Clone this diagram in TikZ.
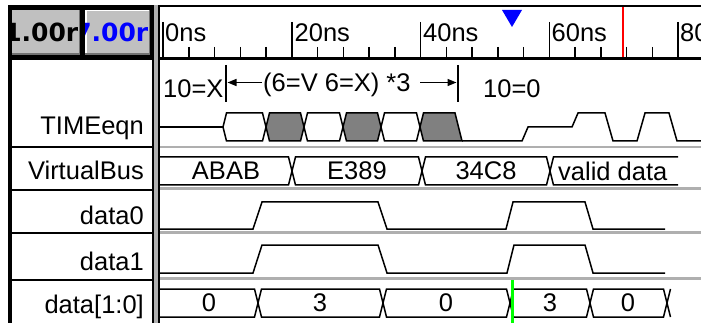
\documentclass[tikz,border=0pt]{standalone}
\usepackage{fontspec}
\setmainfont{Liberation Sans}
\newfontfamily\btnfamily{DejaVu Sans}
\usetikzlibrary{arrows.meta}
\definecolor{btngray}{RGB}{192,192,192}
\definecolor{sepgray}{RGB}{175,175,175}
\definecolor{boxgray}{RGB}{128,128,128}
\definecolor{mkblue}{RGB}{0,0,255}
\definecolor{mkred}{RGB}{255,0,0}
\definecolor{mkgreen}{RGB}{0,255,0}
\newcommand\busseg[5]{\draw[wave] (#1,#5)--(#1+3.5,#3)--(#2-3.5,#3)--(#2,#5)--(#2-3.5,#4)--(#1+3.5,#4)--cycle;}
\newcommand\grayseg[5]{\filldraw[wave,fill=boxgray] (#1,#5)--(#1+3.5,#3)--(#2-3.5,#3)--(#2,#5)--(#2-3.5,#4)--(#1+3.5,#4)--cycle;}
\tikzset{
  wave/.style={line width=1.5pt, line join=miter},
  txt/.style={inner sep=0pt, font=\fontsize{25.5}{30}\selectfont},
  btntxt/.style={inner sep=0pt, font=\btnfamily\bfseries\fontsize{25}{30}\selectfont},
  namelbl/.style={txt, anchor=base east},
  ruler/.style={txt, anchor=base west},
  tick/.style={line width=1.5pt},
  sep/.style={sepgray, line width=2.5pt},
  rowline/.style={black, line width=2pt},
  btn/.style={fill=btngray},
}
\begin{document}
\begin{tikzpicture}[x=1pt,y=-1pt]
\useasboundingbox (0,0) rectangle (701,323);
\fill[white] (0,0) rectangle (701,323);
% frame
\fill[black] (8,5) rectangle (153,60);
\fill[black] (8,5) rectangle (701,7.5);
\fill[black] (8,5) rectangle (11.5,323);
\fill[black] (153,57) rectangle (701,60);
\fill[black] (152,5) rectangle (160,323);
\fill[sepgray] (154.3,5) rectangle (157.5,323);
% buttons
\fill[btn] (12,10) rectangle (80,55);
\fill[btn] (85,10) rectangle (150,55);
\draw[white, line width=1.5pt] (85.75,55)--(85.75,10.75)--(150,10.75);
\draw[black!55, line width=1.5pt] (12,54.25)--(79.25,54.25)--(79.25,10);
\draw[black!55, line width=1.5pt] (85,54.25)--(149.25,54.25)--(149.25,10);
\begin{scope}
\clip (12,10) rectangle (80,55);
\node[btntxt, anchor=base east] (b1) at (78.5,42) {1.00r};
\end{scope}
\begin{scope}
\clip (85,10) rectangle (150,55);
\node[btntxt, anchor=base east, text=mkblue] (b2) at (148.5,42) {7.00r};
\end{scope}
% name column lines
\foreach \yy in {147,190,233,280} \draw[rowline] (10,\yy)--(152,\yy);
% wave area separators
\foreach \yy in {147,188.5,232.5,278.5} \draw[sep] (160,\yy)--(701,\yy);
% names
\node[namelbl] (n1) at (144,135) {TIMEeqn};
\node[namelbl] (n2) at (144,180) {VirtualBus};
\node[namelbl] (n3) at (144,225) {data0};
\node[namelbl] (n4) at (144,270) {data1};
\node[namelbl] (n5) at (144,313) {data[1:0]};
% ruler
\foreach \k in {0,...,21} \draw[tick] (163+25.75*\k,47)--(163+25.75*\k,57);
\foreach \k in {0,5,10,15,20} \draw[tick] (163+25.75*\k,22)--(163+25.75*\k,57);
\node[ruler] (r0) at (165,42) {0ns};
\node[ruler] (r20) at (294.5,42) {20ns};
\node[ruler] (r40) at (423,42) {40ns};
\node[ruler] (r60) at (551.5,42) {60ns};
\begin{scope}
\clip (160,8) rectangle (701,57);
\node[ruler] (r80) at (680,42) {80ns};
\end{scope}
\draw[mkred, line width=2pt] (623,7.5)--(623,57);
\fill[mkblue] (502,10)--(522,10)--(512,27)--cycle;
% annotation
\node[txt, anchor=base west] (a1) at (163,98) {10=X};
\node[txt, anchor=base west] (a2) at (263,92) {(6=V 6=X) *3};
\node[txt, anchor=base west] (a3) at (483,98) {10=0};
\coordinate (barL) at (226,65);
\coordinate (barLb) at (226,102);
\coordinate (barR) at (458,65);
\coordinate (barRb) at (458,102);
\draw[line width=1.8pt] (barL)--(barLb);
\draw[line width=1.8pt] (barR)--(barRb);
\draw[line width=1.5pt, -{Triangle[length=9pt,width=7pt]}] (a2.west |- 0,82.5) ++(-1,0) -- (227.5,82.5);
\draw[line width=1.5pt, -{Triangle[length=9pt,width=7pt]}] (420,82.5) -- (456.5,82.5);
% TIMEeqn
\draw[wave] (160,127)--(223,127);
\busseg{223}{266}{113}{141}{127}
\grayseg{266}{304}{113}{141}{127}
\busseg{304}{343}{113}{141}{127}
\grayseg{343}{381}{113}{141}{127}
\busseg{381}{420}{113}{141}{127}
\filldraw[wave, fill=boxgray] (420,127)--(423.5,113)--(455,113)--(462,141)--(423.5,141)--cycle;
\draw[wave] (462,141)--(522,141)--(528,127)--(572,127)--(578,113)--(605,113)--(613,141)--(637,141)--(645,113)--(669,113)--(677,141)--(701,141);
% VirtualBus
\draw[wave] (160,157)--(288.5,157)--(292,171)--(288.5,185)--(160,185);
\busseg{292}{422}{157}{185}{171}
\busseg{422}{550}{157}{185}{171}
\draw[wave] (678,157)--(553.5,157)--(550,171)--(553.5,185)--(678,185);
\node[txt] (v1) at (226,171) {ABAB};
\node[txt] (v2) at (357,171) {E389};
\node[txt] (v3) at (486,171) {34C8};
\node[txt, anchor=west] (v4) at (558,171) {valid data};
% data0 / data1
\draw[wave] (160,229)--(253,229)--(262,202)--(378,202)--(387,229)--(506,229)--(513,202)--(585,202)--(593,229)--(665,229);
\draw[wave] (160,273)--(253,273)--(262,245)--(378,245)--(387,273)--(507,273)--(514,245)--(585,245)--(593,273)--(665,273);
% data[1:0]
\draw[wave] (160,289)--(254.5,289)--(258,303)--(254.5,317)--(160,317);
\busseg{258}{383}{289}{317}{303}
\busseg{383}{510}{289}{317}{303}
\busseg{510}{590}{289}{317}{303}
\busseg{590}{667}{289}{317}{303}
\draw[wave] (667,303)--(670.5,289);
\draw[wave] (667,303)--(670.5,317);
\node[txt] (d1) at (209,303) {0};
\node[txt] (d2) at (320,303) {3};
\node[txt] (d3) at (446,303) {0};
\node[txt] (d4) at (550,303) {3};
\node[txt] (d5) at (628,303) {0};
\draw[mkgreen, line width=3pt] (512,280)--(512,323);
\end{tikzpicture}
\end{document}
